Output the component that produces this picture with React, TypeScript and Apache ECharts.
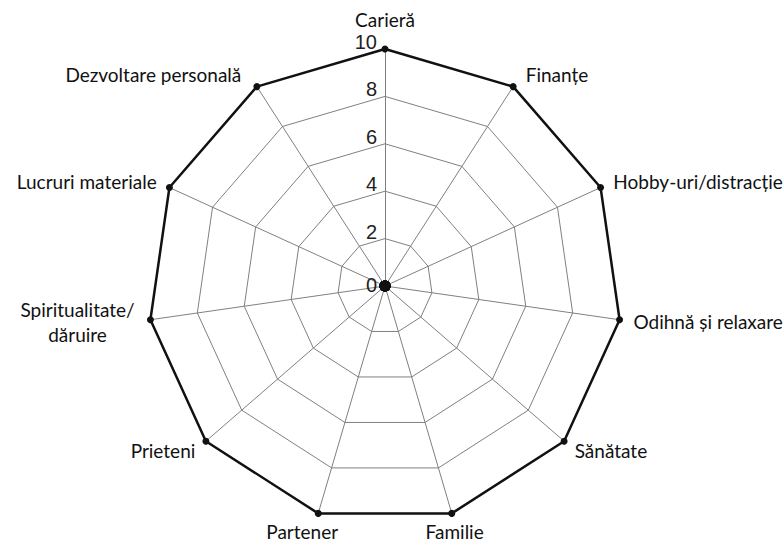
import React, { useEffect, useRef } from 'react';
import * as echarts from 'echarts';

// Indicators listed counter-clockwise from the top (ECharts radar order)
const categories = [
  'Carieră',
  'Dezvoltare personală',
  'Lucruri materiale',
  'Spiritualitate/\ndăruire',
  'Prieteni',
  'Partener',
  'Familie',
  'Sănătate',
  'Odihnă și relaxare',
  'Hobby-uri/distracție',
  'Finanțe',
];
const scores = [10, 10, 10, 10, 10, 10, 10, 10, 10, 10, 10];
const centerValues = [0, 0, 0, 0, 0, 0, 0, 0, 0, 0, 0];
const axisMin = 0;
const axisMax = 10;
const splitCount = 5;

const NAME_FONT = 'Lato, "Noto Sans", sans-serif';
const NAME_SIZE = 19;
const TICK_FONT = 'Liberation Sans, Arial, sans-serif';

export default function App() {
  const ref = useRef<HTMLDivElement>(null);
  useEffect(() => {
    document.body.style.margin = '0';
    const chart = echarts.init(ref.current!, null, { renderer: 'svg' });
    const tickTxt = { fontSize: 20, color: '#222', fontFamily: TICK_FONT };
    const indicator = categories.map((name, i) => {
      const base: any = { name, min: axisMin, max: axisMax };
      if (i === 0) {
        base.axisLabel = {
          show: true,
          ...tickTxt,
          margin: 8,
          verticalAlign: 'middle',
          formatter: (v: number) => (v === 0 ? '{z|' + v + '}' : '{n|' + v + '}'),
          rich: {
            n: { ...tickTxt, padding: [0, 0, 14, 0] },
            z: { ...tickTxt, padding: [0, 0, 2, 0] },
          },
        };
      }
      return base;
    });
    const txt = { fontSize: NAME_SIZE, color: '#111', fontFamily: NAME_FONT };
    const richKey: Record<string, string> = {
      'Carieră': 'top',
      'Dezvoltare personală': 'dz',
      'Finanțe': 'fin',
      'Partener': 'part',
      'Familie': 'fam',
    };
    chart.setOption({
      animation: false,
      backgroundColor: '#fff',
      radar: {
        center: [385, 286],
        radius: 237,
        startAngle: 90,
        splitNumber: splitCount,
        shape: 'polygon',
        indicator,
        axisName: {
          ...txt,
          formatter: (name: string) => {
            if (name.indexOf('\n') >= 0) {
              return name.split('\n').map((s) => '{c|' + s + '}').join('\n');
            }
            const k = richKey[name];
            return k ? '{' + k + '|' + name + '}' : name;
          },
          rich: {
            c: { ...txt, width: 118, align: 'center', lineHeight: 25 },
            top: { ...txt, padding: [0, 0, 6, 0] },
            dz: { ...txt, padding: [0, 8, 0, 0] },
            fin: { ...txt, padding: [0, 0, 0, 5] },
            part: { ...txt, width: 48, align: 'left', padding: [10, 0, 0, 0] },
            fam: { ...txt, width: 28, align: 'right', padding: [10, 0, 0, 0] },
          },
        },
        nameGap: 14,
        axisLine: { lineStyle: { color: '#808080', width: 1 } },
        splitLine: { lineStyle: { color: '#808080', width: 1 } },
        splitArea: { show: false },
        axisTick: { show: false },
        axisLabel: { show: false },
      },
      series: [
        {
          type: 'radar',
          symbol: 'circle',
          symbolSize: 7,
          lineStyle: { color: '#111', width: 2.5 },
          itemStyle: { color: '#111' },
          data: [{ value: scores, name: 'Scor' }],
        },
        {
          type: 'radar',
          symbol: 'circle',
          symbolSize: 11,
          lineStyle: { width: 0 },
          itemStyle: { color: '#111' },
          data: [{ value: centerValues, name: 'Centru' }],
        },
      ],
    });
    return () => chart.dispose();
  }, []);
  return <div ref={ref} style={{ width: 784, height: 545 }} />;
}
